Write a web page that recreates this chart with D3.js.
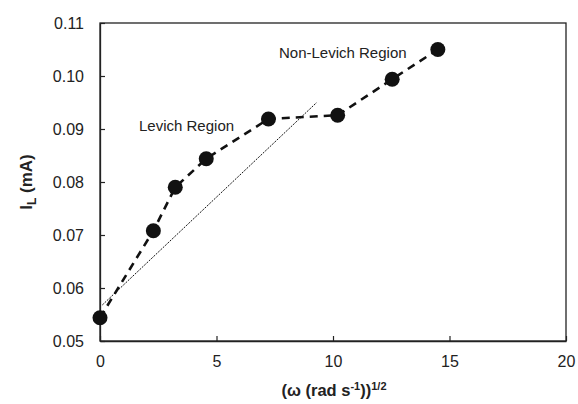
<!DOCTYPE html>
<html>
<head>
<meta charset="utf-8">
<script src="https://cdn.jsdelivr.net/npm/d3@7"></script>
<style>
  body { margin: 0; background: #fff; }
  text { font-family: "Liberation Sans", Arial, sans-serif; fill: #222; }
</style>
</head>
<body>
<div id="chart"></div>
<script>
// measured points
var omegaRoot = [0, 2.29, 3.23, 4.56, 7.23, 10.2, 12.54, 14.5];
var currentMA = [0.0544, 0.0708, 0.0790, 0.0844, 0.0919, 0.0926, 0.0994, 0.1050];
// Levich fit line (thin dotted)
var fitX = [0.1, 9.3];
var fitY = [0.0568, 0.0950];
var xTicks = [0, 5, 10, 15, 20];
var yTicks = [0.05, 0.06, 0.07, 0.08, 0.09, 0.10, 0.11];

var width = 578, height = 404;
var margin = {left: 100, right: 12, top: 23, bottom: 63};

var svg = d3.select("#chart").append("svg")
  .attr("width", width)
  .attr("height", height);

var x = d3.scaleLinear().domain([0, 20]).range([margin.left, width - margin.right]);
var y = d3.scaleLinear().domain([0.05, 0.11]).range([height - margin.bottom, margin.top]);

// frame
svg.append("rect")
  .attr("x", x(0)).attr("y", y(0.11))
  .attr("width", x(20) - x(0)).attr("height", y(0.05) - y(0.11))
  .attr("fill", "none").attr("stroke", "#222").attr("stroke-width", 1.3);

var xAxis = svg.append("g")
  .attr("transform", "translate(0," + y(0.05) + ")")
  .call(d3.axisBottom(x).tickValues(xTicks).tickSizeInner(-5).tickSizeOuter(0).tickPadding(12));
var yAxis = svg.append("g")
  .attr("transform", "translate(" + x(0) + ",0)")
  .call(d3.axisLeft(y).tickValues(yTicks).tickFormat(d3.format(".2f")).tickSizeInner(-5).tickSizeOuter(0).tickPadding(16));

[xAxis, yAxis].forEach(function(a) {
  a.select(".domain").attr("stroke", "#222").attr("stroke-width", 1.3);
  a.selectAll(".tick line").attr("stroke", "#222").attr("stroke-width", 1.2);
  a.selectAll(".tick text")
    .style("font-family", "Liberation Sans, Arial, sans-serif")
    .style("font-size", "16px").attr("fill", "#222");
});
xAxis.selectAll(".tick text").attr("dy", "0.9em");

// fit line
svg.append("line")
  .attr("x1", x(fitX[0])).attr("y1", y(fitY[0]))
  .attr("x2", x(fitX[1])).attr("y2", y(fitY[1]))
  .attr("stroke", "#111").attr("stroke-width", 1)
  .attr("stroke-dasharray", "2,1.2");

var data = omegaRoot.map(function(d, i) { return {x: d, y: currentMA[i]}; });

svg.append("path")
  .datum(data)
  .attr("fill", "none")
  .attr("stroke", "#111")
  .attr("stroke-width", 2.6)
  .attr("stroke-dasharray", "8,6")
  .attr("d", d3.line().x(function(d) { return x(d.x); }).y(function(d) { return y(d.y); }));

svg.selectAll("circle.pt")
  .data(data)
  .enter().append("circle")
  .attr("class", "pt")
  .attr("cx", function(d) { return x(d.x); })
  .attr("cy", function(d) { return y(d.y); })
  .attr("r", 7.5)
  .attr("fill", "#111");

// annotations
svg.append("text").attr("x", 139).attr("y", 131)
  .style("font-size", "15px").text("Levich Region");
svg.append("text").attr("x", 279).attr("y", 58)
  .style("font-size", "15px").text("Non-Levich Region");

// axis titles
var yt = svg.append("text")
  .attr("transform", "translate(32," + ((y(0.05) + y(0.11)) / 2) + ")rotate(-90)")
  .attr("text-anchor", "middle")
  .style("font-size", "17px").style("font-weight", "bold");
yt.append("tspan").text("I");
yt.append("tspan").attr("dy", 4).style("font-size", "12px").text("L");
yt.append("tspan").attr("dy", -4).text(" (mA)");

var xt = svg.append("text")
  .attr("x", 334).attr("y", 396)
  .attr("text-anchor", "middle")
  .style("font-size", "16.5px").style("font-weight", "bold");
xt.append("tspan").text("(\u03c9 (rad s");
xt.append("tspan").attr("dy", -6).style("font-size", "11px").text("-1");
xt.append("tspan").attr("dy", 6).text("))");
xt.append("tspan").attr("dy", -6).style("font-size", "11px").text("1/2");
</script>
</body>
</html>
